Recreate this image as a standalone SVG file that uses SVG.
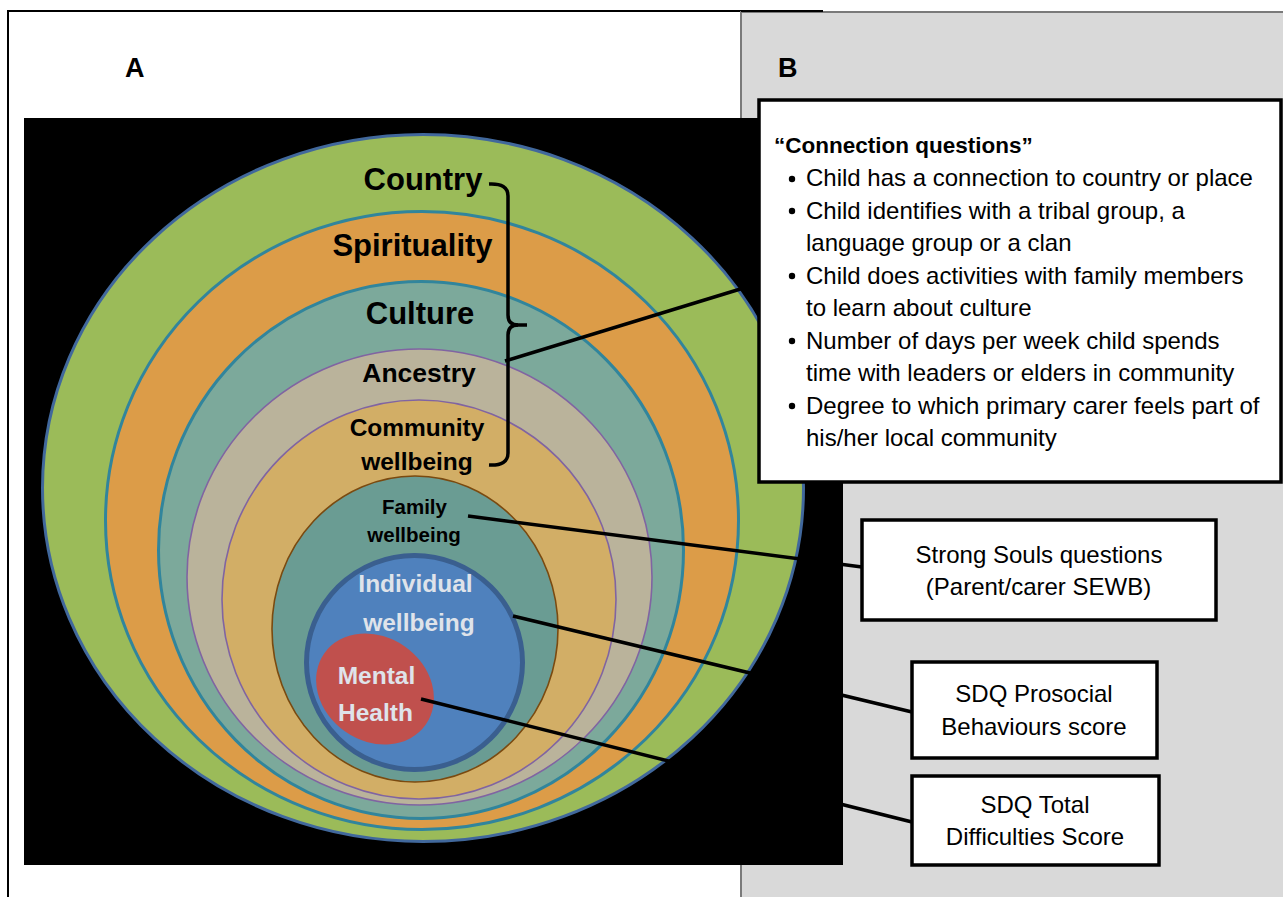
<svg xmlns="http://www.w3.org/2000/svg" width="1283" height="897" viewBox="0 0 1283 897">
  <style>
    .lbl { font-family: "Liberation Sans", Arial, sans-serif; font-weight: bold; fill: #000; text-anchor: middle; }
    .lite { fill: #dfe3ea; }
    .txt { font-family: "Liberation Sans", Arial, sans-serif; font-size: 24px; fill: #000; }
    .ctr { text-anchor: middle; }
    .box { fill: #fff; stroke: #000; stroke-width: 3.5; }
    .conn { stroke: #000; stroke-width: 3.5; fill: none; stroke-linecap: butt; }
    .ringA { stroke: #31859c; stroke-width: 3; }
    .ringP { stroke: #8064a2; stroke-width: 1.6; }
  </style>

  <!-- background and panels -->
  <rect x="0" y="0" width="1283" height="897" fill="#fff"/>
  <g id="panelA">
    <path d="M8,900 L8,11 L823,11" fill="none" stroke="#000" stroke-width="2"/>
    <text x="125" y="77" class="lbl" style="text-anchor:start;font-size:27px">A</text>
  </g>
  <g id="panelB">
    <rect x="741" y="12" width="545" height="890" fill="#d9d9d9" stroke="#7a7a7a" stroke-width="2"/>
    <line x1="741" y1="11" x2="823" y2="11" stroke="#000" stroke-width="2"/>
    <text x="778" y="77" class="lbl" style="text-anchor:start;font-size:27px">B</text>
  </g>

  <rect id="blackBg" x="24" y="118" width="819" height="747" fill="#000"/>

  <!-- concentric rings -->
  <g id="country">
    <ellipse cx="423" cy="488" rx="380.5" ry="353.5" fill="#9bbb59" stroke="#41689c" stroke-width="3"/>
    <text x="423" y="190" class="lbl" style="font-size:31px">Country</text>
  </g>
  <g id="spirituality">
    <ellipse cx="422" cy="520.5" rx="316.5" ry="309" fill="#dc9c48" class="ringA"/>
    <text x="412.5" y="256" class="lbl" style="font-size:31px">Spirituality</text>
  </g>
  <g id="culture">
    <ellipse cx="421" cy="550" rx="262.5" ry="268.5" fill="#7ca99b" class="ringA"/>
    <text x="420" y="324" class="lbl" style="font-size:31px">Culture</text>
  </g>
  <g id="ancestry">
    <ellipse cx="419.5" cy="577" rx="232.5" ry="228" fill="#bab39b" class="ringP"/>
    <text x="419" y="382" class="lbl" style="font-size:26.5px">Ancestry</text>
  </g>
  <g id="community">
    <ellipse cx="419" cy="599.5" rx="197" ry="199.5" fill="#d2ae66" class="ringP"/>
    <text x="417" y="436" class="lbl" style="font-size:24.5px">Community</text>
    <text x="417" y="470" class="lbl" style="font-size:24.5px">wellbeing</text>
  </g>
  <g id="family">
    <ellipse cx="415" cy="629" rx="143" ry="153" fill="#6a9c93" stroke="#7a4a10" stroke-width="1.6"/>
    <text x="414.5" y="514" class="lbl" style="font-size:20.5px">Family</text>
    <text x="414" y="542" class="lbl" style="font-size:20.5px">wellbeing</text>
  </g>
  <g id="individual">
    <ellipse cx="414.5" cy="662.5" rx="108" ry="107" fill="#4f81bd" stroke="#3a5f8f" stroke-width="5"/>
    <text x="415.5" y="592" class="lbl lite" style="font-size:24.5px">Individual</text>
    <text x="419" y="631" class="lbl lite" style="font-size:24.5px">wellbeing</text>
  </g>
  <g id="mental">
    <ellipse cx="375" cy="689" rx="62" ry="52" transform="rotate(35 375 689)" fill="#c0504d"/>
    <text x="376.5" y="684" class="lbl lite" style="font-size:24.5px">Mental</text>
    <text x="375.5" y="721" class="lbl lite" style="font-size:24.5px">Health</text>
  </g>

  <!-- bracket and connectors -->
  <g id="connectors">
    <path class="conn" d="M489,184 Q508,183 508,196 L508,315 Q508,325 518,325 Q508,325 508,335 L508,453 Q508,466 489,465"/>
    <path class="conn" d="M514,325 L527,325"/>
    <line class="conn" x1="505" y1="361" x2="760" y2="283"/>
    <line class="conn" x1="468" y1="516" x2="862" y2="567"/>
    <line class="conn" x1="513" y1="616" x2="912" y2="712"/>
    <line class="conn" x1="421" y1="699" x2="912" y2="822"/>
  </g>

  <!-- boxes -->
  <g id="connectionBox">
    <rect x="759" y="100" width="522" height="382" class="box"/>
    <text x="774" y="153" style="font-family:'Liberation Sans', Arial, sans-serif;font-weight:bold;font-size:22.5px">“Connection questions”</text>
    <g fill="#000">
      <circle cx="792" cy="179" r="3.2"/>
      <circle cx="792" cy="211" r="3.2"/>
      <circle cx="792" cy="276" r="3.2"/>
      <circle cx="792" cy="341" r="3.2"/>
      <circle cx="792" cy="406" r="3.2"/>
    </g>
    <text class="txt">
      <tspan x="806" y="186">Child has a connection to country or place</tspan>
      <tspan x="806" y="218.5">Child identifies with a tribal group, a</tspan>
      <tspan x="806" y="251">language group or a clan</tspan>
      <tspan x="806" y="283.5">Child does activities with family members</tspan>
      <tspan x="806" y="316">to learn about culture</tspan>
      <tspan x="806" y="348.5">Number of days per week child spends</tspan>
      <tspan x="806" y="381">time with leaders or elders in community</tspan>
      <tspan x="806" y="413.5">Degree to which primary carer feels part of</tspan>
      <tspan x="806" y="446">his/her local community</tspan>
    </text>
  </g>
  <g id="strongSouls">
    <rect x="862" y="520" width="354" height="100" class="box"/>
    <text x="1039" y="563" class="txt ctr">Strong Souls questions</text>
    <text x="1038.5" y="595" class="txt ctr">(Parent/carer SEWB)</text>
  </g>
  <g id="sdqProsocial">
    <rect x="912" y="662" width="245" height="96" class="box"/>
    <text x="1034" y="702" class="txt ctr">SDQ Prosocial</text>
    <text x="1034" y="735" class="txt ctr">Behaviours score</text>
  </g>
  <g id="sdqTotal">
    <rect x="912" y="776" width="247" height="89" class="box"/>
    <text x="1035" y="813" class="txt ctr">SDQ Total</text>
    <text x="1035" y="845" class="txt ctr">Difficulties Score</text>
  </g>
</svg>
